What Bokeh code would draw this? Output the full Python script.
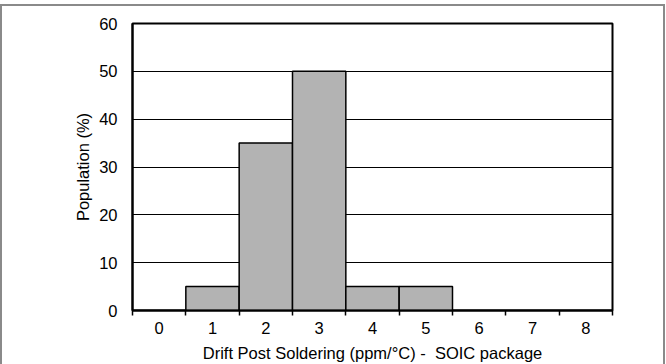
from bokeh.plotting import figure
from bokeh.models import FixedTicker, Range1d, GlobalInlineStyleSheet
from bokeh.embed import file_html
from bokeh.resources import INLINE

categories = [0, 1, 2, 3, 4, 5, 6, 7, 8]
population = [0, 5, 35, 50, 5, 5, 0, 0, 0]
y_ticks = [0, 10, 20, 30, 40, 50, 60]
x_label = "Drift Post Soldering (ppm/\u00b0C) -\u00a0 SOIC package"
y_label = "Population (%)"

FONT = "Liberation Sans"
FS = "16.5px"

p = figure(width=666, height=364, output_backend="svg", toolbar_location=None,
           x_range=Range1d(-0.5, 8.5), y_range=Range1d(0, 60),
           min_border_left=132, min_border_right=54, min_border_top=23, min_border_bottom=52)
p.styles = {"position": "absolute", "left": "0px", "top": "0px"}
p.stylesheets = [GlobalInlineStyleSheet(css=(
    "body::after { content: ''; position: fixed; left: 0px; top: 4px; "
    "width: 661px; height: 420px; box-sizing: content-box; "
    "border: 2px solid #8a8a8a; pointer-events: none; z-index: 10; }"))]

p.vbar(x=categories, top=population, width=1.0, bottom=0,
       fill_color="#b3b3b3", line_color="black", line_width=1.5)

p.outline_line_color = "black"
p.outline_line_width = 2
p.outline_line_alpha = 1

p.xgrid.visible = False
p.ygrid.ticker = FixedTicker(ticks=y_ticks)
p.ygrid.grid_line_color = "black"
p.ygrid.grid_line_width = 1
p.ygrid.grid_line_alpha = 1

xa = p.xaxis[0]
xa.ticker = FixedTicker(ticks=categories, minor_ticks=[c - 0.5 for c in categories] + [8.5])
xa.major_tick_line_color = None
xa.major_tick_out = 0
xa.major_tick_in = 0
xa.minor_tick_line_color = "black"
xa.minor_tick_line_width = 1.5
xa.minor_tick_out = 5
xa.minor_tick_in = 0
xa.axis_line_color = "black"
xa.axis_line_width = 2
xa.major_label_text_font = FONT
xa.major_label_text_font_size = FS
xa.major_label_text_color = "black"
xa.major_label_standoff = 6
xa.axis_label = x_label
xa.axis_label_text_font = FONT
xa.axis_label_text_font_size = FS
xa.axis_label_text_font_style = "normal"
xa.axis_label_text_color = "black"
xa.axis_label_standoff = 7

ya = p.yaxis[0]
ya.ticker = FixedTicker(ticks=y_ticks)
ya.major_tick_line_color = None
ya.minor_tick_line_color = None
ya.major_tick_out = 0
ya.major_tick_in = 0
ya.axis_line_color = "black"
ya.axis_line_width = 2
ya.major_label_text_font = FONT
ya.major_label_text_font_size = FS
ya.major_label_text_color = "black"
ya.major_label_standoff = 15
ya.axis_label = y_label
ya.axis_label_text_font = FONT
ya.axis_label_text_font_size = FS
ya.axis_label_text_font_style = "normal"
ya.axis_label_text_color = "black"
ya.axis_label_standoff = 4

open("out.html", "w").write(file_html(p, INLINE))
